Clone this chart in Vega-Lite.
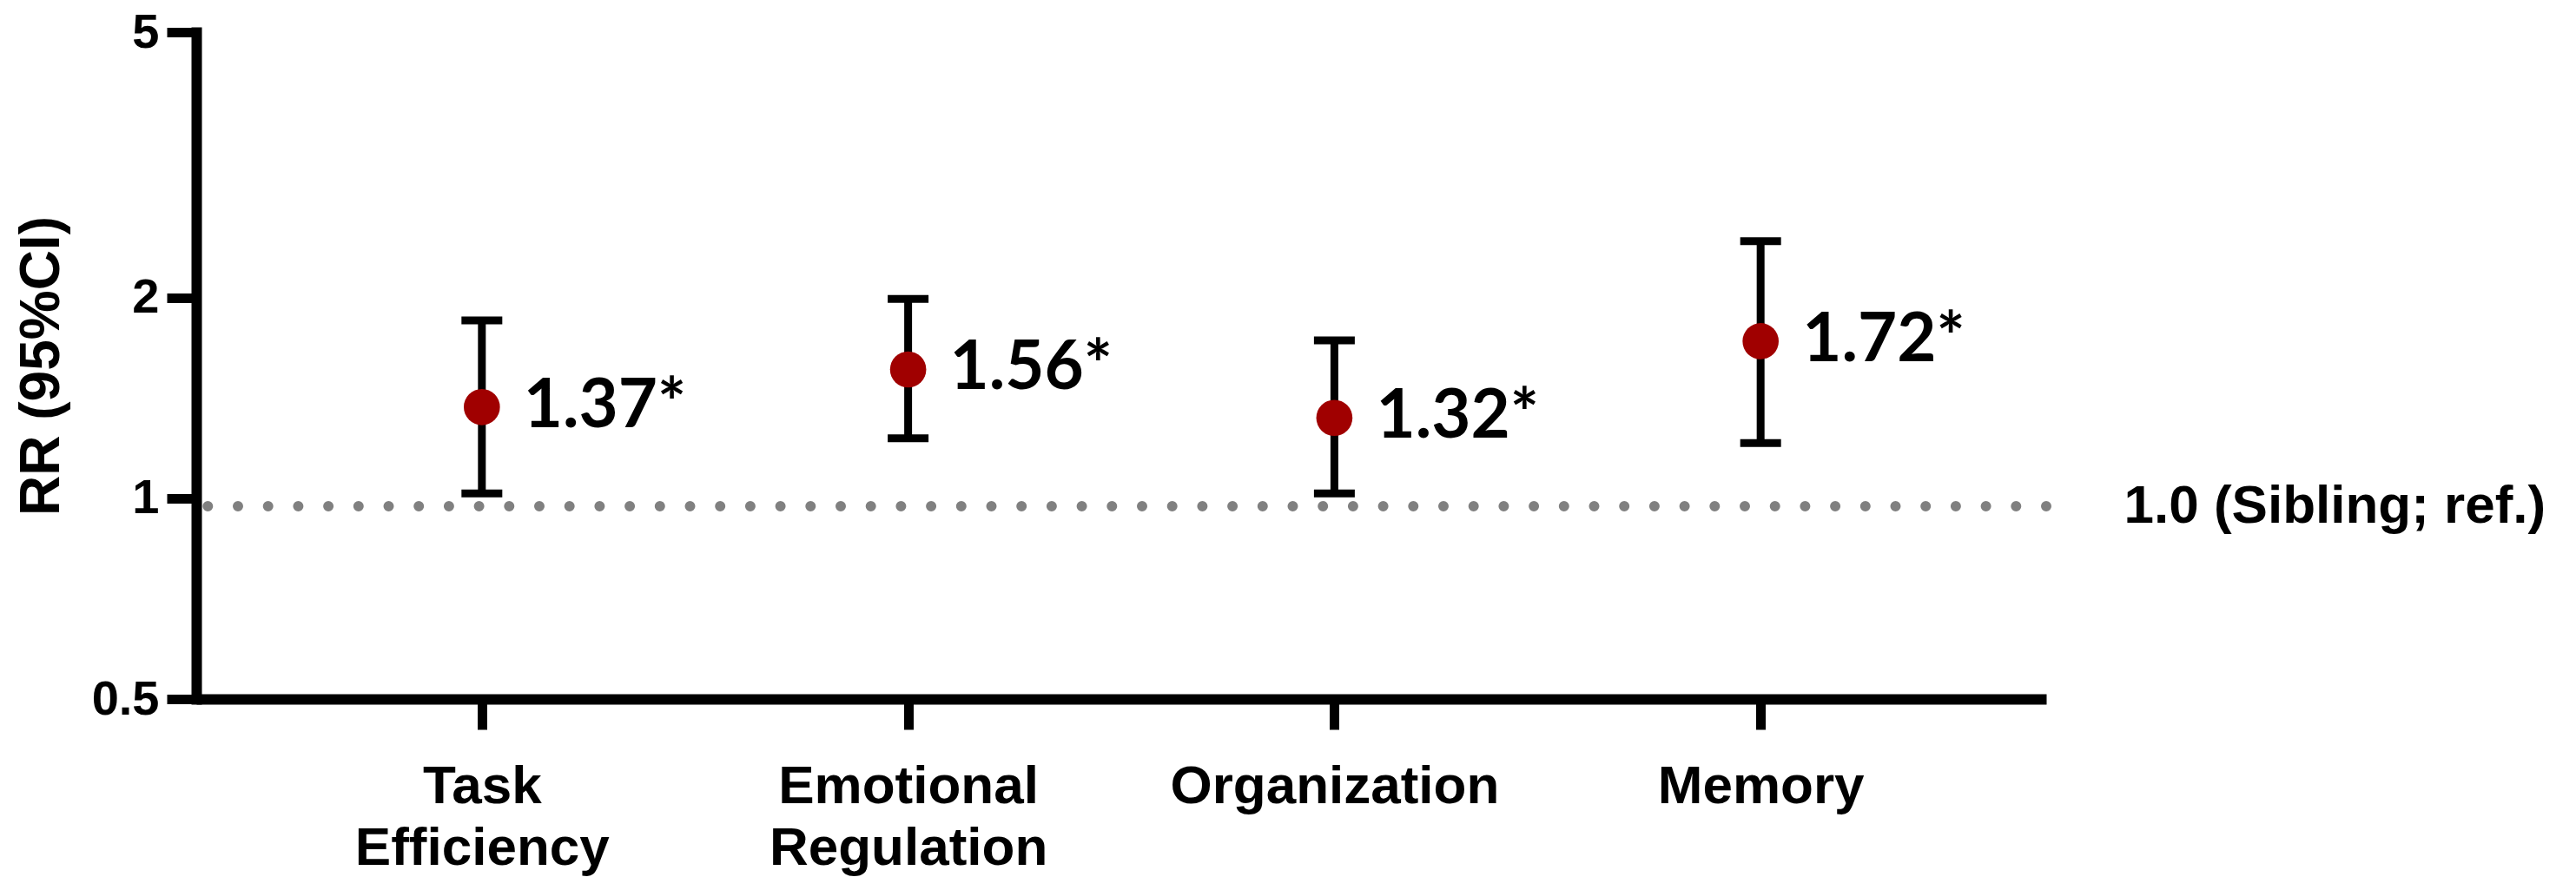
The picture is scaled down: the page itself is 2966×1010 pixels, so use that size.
{
  "$schema": "https://vega.github.io/schema/vega-lite/v6.json",
  "width": 2130,
  "height": 768,
  "autosize": {"type": "none"},
  "padding": {"left": 226, "top": 37, "right": 610, "bottom": 205},
  "background": "white",
  "config": {"view": {"stroke": null}, "font": "Liberation Sans"},
  "data": {
    "values": [
      {"domain": "Task Efficiency", "rr": 1.37, "lo": 1.017, "hi": 1.848, "label": "1.37*"},
      {"domain": "Emotional Regulation", "rr": 1.56, "lo": 1.23, "hi": 1.99, "label": "1.56*"},
      {"domain": "Organization", "rr": 1.32, "lo": 1.017, "hi": 1.725, "label": "1.32*"},
      {"domain": "Memory", "rr": 1.72, "lo": 1.21, "hi": 2.43, "label": "1.72*"}
    ]
  },
  "resolve": {"axis": {"y": "independent"}},
  "layer": [
    {
      "data": {"values": [{"ref": 0.973}]},
      "mark": {"type": "rule", "strokeDash": [0, 34.7], "strokeCap": "round", "strokeWidth": 12, "color": "#808080"},
      "encoding": {
        "y": {
          "field": "ref",
          "type": "quantitative",
          "scale": {"type": "log", "domain": [0.5, 5], "nice": false},
          "axis": {
            "orient": "right",
            "values": [0.973],
            "labelExpr": "'1.0 (Sibling; ref.)'",
            "domain": false,
            "ticks": false,
            "tickSize": 0,
            "grid": false,
            "title": null,
            "labelPadding": 89,
            "labelLimit": 0,
            "labelFont": "Liberation Sans",
            "labelFontSize": 62,
            "labelFontWeight": "bold",
            "labelColor": "black",
            "labelAlign": "left",
            "labelBaseline": "middle",
            "labelFlush": false,
            "labelOverlap": false,
            "labelBound": false
          }
        }
      }
    },
    {
      "mark": {"type": "rule", "strokeWidth": 9, "color": "black"},
      "encoding": {
        "x": {
          "field": "domain",
          "type": "nominal",
          "sort": null,
          "scale": {"type": "point", "padding": 0.67},
          "axis": {
            "title": null,
            "labelExpr": "split(datum.label, ' ')",
            "labelAngle": 0,
            "labelLimit": 0,
            "labelFont": "Liberation Sans",
            "labelFontSize": 62,
            "labelFontWeight": "bold",
            "labelColor": "black",
            "labelLineHeight": 71,
            "labelBaseline": "top",
            "labelPadding": 35,
            "labelOverlap": false,
            "labelFlush": false,
            "domainColor": "black",
            "domainWidth": 12,
            "tickColor": "black",
            "tickWidth": 11,
            "tickSize": 35,
            "grid": false
          }
        },
        "y": {
          "field": "lo",
          "type": "quantitative",
          "axis": {
            "orient": "left",
            "title": "RR (95%CI)",
            "titleFont": "Liberation Sans",
            "titleFontSize": 64,
            "titleFontWeight": "bold",
            "titleColor": "black",
            "titlePadding": 25,
            "values": [0.5, 1, 2, 5],
            "format": "~g",
            "labelFont": "Liberation Sans",
            "labelFontSize": 56,
            "labelFontWeight": "bold",
            "labelColor": "black",
            "labelPadding": 9,
            "labelFlush": false,
            "labelOverlap": false,
            "labelBaseline": "middle",
            "domainColor": "black",
            "domainWidth": 12,
            "domainCap": "square",
            "tickColor": "black",
            "tickWidth": 11,
            "tickSize": 34,
            "grid": false
          }
        },
        "y2": {"field": "hi"}
      }
    },
    {
      "mark": {"type": "tick", "orient": "horizontal", "size": 47, "thickness": 9, "color": "black", "opacity": 1},
      "encoding": {
        "x": {"field": "domain", "type": "nominal", "sort": null},
        "y": {"field": "lo", "type": "quantitative", "axis": null}
      }
    },
    {
      "mark": {"type": "tick", "orient": "horizontal", "size": 47, "thickness": 9, "color": "black", "opacity": 1},
      "encoding": {
        "x": {"field": "domain", "type": "nominal", "sort": null},
        "y": {"field": "hi", "type": "quantitative", "axis": null}
      }
    },
    {
      "mark": {"type": "circle", "size": 1735, "color": "#A00000", "opacity": 1},
      "encoding": {
        "x": {"field": "domain", "type": "nominal", "sort": null},
        "y": {"field": "rr", "type": "quantitative", "axis": null}
      }
    },
    {
      "mark": {"type": "text", "align": "left", "baseline": "middle", "dx": 48, "font": "Lato", "fontWeight": "bold", "fontSize": 78, "color": "black"},
      "encoding": {
        "x": {"field": "domain", "type": "nominal", "sort": null},
        "y": {"field": "rr", "type": "quantitative", "axis": null},
        "text": {"field": "label"}
      }
    }
  ]
}
